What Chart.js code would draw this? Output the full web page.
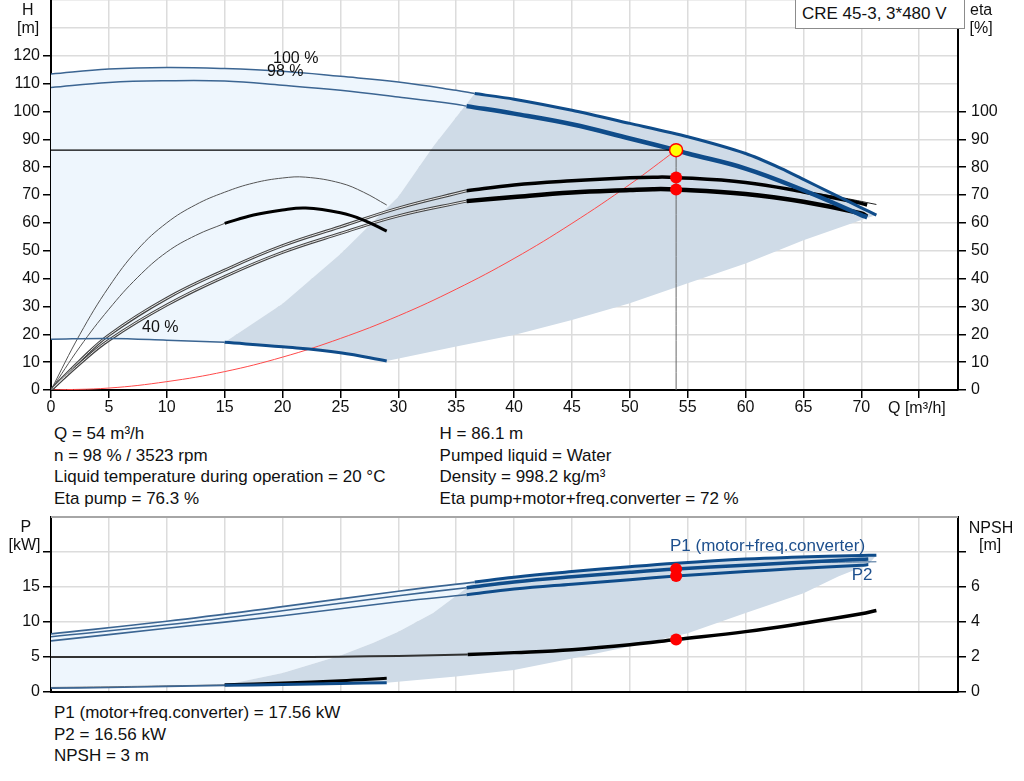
<!DOCTYPE html>
<html>
<head>
<meta charset="utf-8">
<script src="https://cdn.jsdelivr.net/npm/chart.js@4.4.1/dist/chart.umd.min.js"></script>
<style>
html,body{margin:0;padding:0;background:#fff;}
#wrap{position:relative;width:1024px;height:781px;overflow:hidden;font-family:"Liberation Sans",Arial,sans-serif;color:#111;}
.t{position:absolute;white-space:nowrap;font-size:16px;line-height:16px;}
.info{position:absolute;white-space:nowrap;font-size:17px;line-height:21.5px;}
.lbl{position:absolute;white-space:nowrap;font-size:17px;line-height:17px;color:#1d4f8d;}
#c1box{position:absolute;left:0;top:0;width:1024px;height:420px;}
#c2box{position:absolute;left:0;top:515px;width:1024px;height:182px;}
#tbox{position:absolute;left:795px;top:-1px;width:162px;height:28px;border:1px solid #8c8c8c;background:#fff;font-size:17px;line-height:28px;padding-left:6px;box-sizing:content-box;white-space:nowrap;}
</style>
</head>
<body>
<div id="wrap">
  <div id="c1box"><canvas id="c1"></canvas></div>
  <div id="c2box"><canvas id="c2"></canvas></div>

  <div class="t" style="left:22px;top:1.5px;">H</div>
  <div class="t" style="left:17px;top:19.5px;">[m]</div>
  <div class="t" style="left:970px;top:1.5px;">eta</div>
  <div class="t" style="left:969.5px;top:19.5px;">[%]</div>
  <div class="t" style="left:888px;top:400px;">Q [m³/h]</div>
  <div class="t" style="left:273px;top:50px;">100 %</div>
  <div class="t" style="left:267px;top:62.5px;">98 %</div>
  <div class="t" style="left:142px;top:319px;">40 %</div>
  <div id="tbox">CRE 45-3, 3*480 V</div>

  <div class="info" style="left:54px;top:423.4px;">Q = 54 m³/h<br>n = 98 % / 3523 rpm<br>Liquid temperature during operation = 20 °C<br>Eta pump = 76.3 %</div>
  <div class="info" style="left:439.6px;top:423.4px;">H = 86.1 m<br>Pumped liquid = Water<br>Density = 998.2 kg/m³<br>Eta pump+motor+freq.converter = 72 %</div>

  <div class="t" style="left:20.5px;top:519px;">P</div>
  <div class="t" style="left:8.5px;top:536.5px;">[kW]</div>
  <div class="t" style="left:968.8px;top:519.5px;">NPSH</div>
  <div class="t" style="left:979px;top:536.5px;">[m]</div>
  <div class="lbl" style="left:670px;top:536.6px;">P1 (motor+freq.converter)</div>
  <div class="lbl" style="left:851.7px;top:565.6px;">P2</div>

  <div class="info" style="left:54px;top:702.4px;">P1 (motor+freq.converter) = 17.56 kW<br>P2 = 16.56 kW<br>NPSH = 3 m</div>
</div>

<script>
// ================= DATA =================
// axes
const qMax = 78.35;          // right edge of the Q axis
const qTickMax = 70;         // last labelled Q tick
const hMax = 140, hLabelMax = 120, etaLabelMax = 100;
const pMax = 25, pLabelMax = 15, pTickMax = 20;
const npshMax = 10, npshLabelMax = 6, npshTickMax = 8;

// Head curves H [m] vs Q [m3/h]
const q100 = [0, 5, 10, 15, 20, 25, 30, 35, 36.6, 40, 45, 50, 55, 60, 63.1, 65, 67.5, 70, 71.3];
const h100 = [113.4, 115.2, 115.8, 115.4, 114.4, 112.6, 110.6, 107.6, 106.4, 104.4, 100.4, 95.7, 90.9, 84.9, 79.5, 75.6, 70.5, 65.4, 62.8];
const q98 = [0, 5, 10, 15, 20, 25, 30, 35, 35.9, 40, 45, 50, 54, 55, 60, 65, 70, 70.5];
const h98 = [108.6, 110.4, 111.0, 110.9, 109.4, 107.6, 105.2, 102.6, 101.9, 99.2, 95.4, 90.3, 86.1, 84.9, 79.5, 71.7, 62.8, 62.0];
const q40 = [0, 5, 10, 15, 20, 25, 29];
const h40 = [18.2, 18.5, 17.9, 17.1, 15.5, 13.4, 10.4];

// Efficiency curves eta [%]
const qEta98 = [0, 2.5, 5, 10, 15, 20, 25, 30, 35.9, 40, 45, 50, 52, 54, 60, 65, 70, 70.5];
const etaPump98 = [0, 10.5, 19.7, 32.9, 43.0, 51.8, 58.6, 65.3, 71.5, 73.6, 75.1, 76.2, 76.4, 76.3, 74.5, 71.1, 67.0, 66.4];
const etaTot98 = [0, 9.5, 17.9, 30.5, 40.7, 49.4, 56.2, 62.5, 67.8, 69.3, 70.9, 71.8, 72.1, 72.0, 70.4, 67.6, 63.4, 62.2];
const qEtaTail = [65, 68, 71.3];
const etaTail = [71.2, 69.3, 66.6];
const qEta40 = [0, 2.5, 5, 7.5, 10, 12.5, 15, 17.5, 20, 22, 25, 27, 29];
const etaPump40 = [0, 20, 37, 50.5, 60, 66.5, 71, 74.3, 76.1, 76.4, 74.3, 71, 66.4];
const etaTot40 = [0, 15.5, 29, 40.5, 49.5, 55.5, 59.8, 62.8, 64.6, 65.3, 63.6, 61, 57];

// System curve H [m]
const qSys = [0, 5, 10, 15, 20, 25, 30, 35, 40, 45, 50, 54];
const hSys = [0, 0.7, 3.0, 6.6, 11.8, 18.5, 26.6, 36.2, 47.2, 59.8, 73.8, 86.1];

// Operating area boundaries (H chart)
const qOpLeft = [15, 20, 25, 30, 33, 36.6];
const hOpLeft = [17.1, 31.0, 48.8, 69.4, 87.3, 106.4];
const qOpLow = [29, 35, 40, 45, 50, 55, 60, 65, 70, 71.3];
const hOpLow = [10.4, 15.6, 19.7, 25.1, 31.1, 38.3, 45.4, 53.8, 61.0, 62.8];

// Duty point
const dutyQ = 54, dutyH = 86.1, dutyEtaPump = 76.3, dutyEtaTot = 72;
const dutyP1 = 17.56, dutyP2 = 16.56, dutyNpsh = 3;

// Power curves P [kW]
const qP100 = [0, 10, 20, 30, 36.6, 40, 45, 50, 54, 60, 64, 70, 71.3];
const p1_100 = [8.3, 10.1, 12.2, 14.4, 15.7, 16.4, 17.2, 17.9, 18.4, 19.0, 19.25, 19.5, 19.55];
const qP98 = [0, 10, 20, 30, 35.9, 40, 45, 50, 54, 60, 64, 70, 70.6];
const p1_98 = [7.9, 9.6, 11.6, 13.75, 14.9, 15.7, 16.45, 17.1, 17.56, 18.1, 18.45, 18.95, 19.0];
const p2_98 = [7.3, 9.1, 10.9, 12.9, 13.9, 14.7, 15.4, 16.05, 16.56, 17.2, 17.6, 18.1, 18.2];
const qP2Tail = [62, 66, 71.3];
const p2Tail = [18.3, 18.5, 18.6];
const qP40 = [0, 5, 10, 15, 20, 25, 29];
const p2_40 = [0.55, 0.65, 0.8, 0.95, 1.08, 1.22, 1.33];
const p1_40 = [0.65, 0.75, 0.88, 1.02, 1.3, 1.6, 1.95];

// NPSH [m]
const qNpsh = [0, 10, 20, 25, 30, 36, 40, 45, 50, 54, 60, 65, 70, 71.3];
const npsh = [2.0, 2.0, 2.0, 2.02, 2.06, 2.14, 2.25, 2.42, 2.7, 3.0, 3.45, 3.93, 4.47, 4.66];

// Operating area boundaries (P chart)
const qOpLeftP = [15, 20, 25, 27.8, 30, 33, 36.6];
const pOpLeft = [1.0, 2.7, 5.2, 7.0, 8.6, 11.3, 15.7];
const qOpLowP = [29, 35, 40, 45, 50, 55, 60, 65, 68, 70.6];
const pOpLow = [1.33, 2.2, 3.15, 4.8, 6.5, 8.4, 11.3, 14.1, 16.5, 18.2];

// ================= HELPERS =================
const pts = (qs, vs) => qs.map((q, i) => ({x: q, y: vs[i]}));
const upTo = (p, q) => p.filter(d => d.x <= q);
const from = (p, q) => p.filter(d => d.x >= q);
const rev = p => p.slice().reverse();

const BLUE = '#0f4c8a', BLUE_T = '#3b6592', LIGHT = '#eef6fd', DARK = '#cfdbe7', GRID = '#dcdcdc';

function curve(data, color, width, axis, order, extra) {
  return Object.assign({type: 'line', data, borderColor: color, borderWidth: width, pointRadius: 0,
    fill: false, tension: 0.4, yAxisID: axis, order: order}, extra || {});
}
function poly(data, color, axis, order) {
  return {type: 'line', data, borderWidth: 0, borderColor: 'rgba(0,0,0,0)', backgroundColor: color,
    pointRadius: 0, fill: 'shape', tension: 0, yAxisID: axis, order: order};
}
function dots(data, color, border, axis, r) {
  return {type: 'line', data, showLine: false, pointRadius: r, pointBackgroundColor: color,
    pointBorderColor: border, pointBorderWidth: border ? 1.5 : 0, yAxisID: axis, order: 0};
}
function xAxis(showTicks, h) {
  return {type: 'linear', min: 0, max: qMax, position: 'bottom',
    ticks: {display: showTicks, stepSize: 5, includeBounds: false, autoSkip: false, maxRotation: 0, padding: 0,
      callback: v => v <= qTickMax ? String(v) : ''},
    grid: {color: GRID, lineWidth: 1.5, drawTicks: showTicks, tickLength: 8, tickColor: '#000', tickWidth: 1.5},
    border: {color: '#000', width: 2},
    afterFit: s => { s.height = h; s.paddingLeft = 0; s.paddingRight = 0; }};
}
function yAxis(pos, max, step, labelMax, tickMax, width, drawGrid) {
  return {type: 'linear', min: 0, max: max, position: pos,
    ticks: {stepSize: step, includeBounds: false, autoSkip: false, padding: pos === 'left' ? 3 : 5,
      callback: v => v <= labelMax ? String(v) : ''},
    grid: {drawOnChartArea: drawGrid, color: GRID, lineWidth: 1.5, tickLength: 8, tickWidth: 1.5,
      tickColor: c => (c.tick && c.tick.value <= tickMax) ? '#000' : 'rgba(0,0,0,0)'},
    border: {color: '#000', width: 2},
    afterFit: s => { s.width = width; s.paddingTop = 0; s.paddingBottom = 0; }};
}

Chart.defaults.font.family = '"Liberation Sans", Arial, sans-serif';
Chart.defaults.font.size = 16;
Chart.defaults.color = '#111';

const baseOpts = (scales, padTop) => ({
  responsive: true, maintainAspectRatio: false, animation: false, events: [],
  layout: {padding: {top: padTop, left: 0, right: 0, bottom: 0}},
  plugins: {legend: {display: false}, tooltip: {enabled: false}},
  scales
});

// place a chart so that its plot area spans the given page rows
function fitArea(chart, box, pageTop, pageBottom) {
  for (let k = 0; k < 3; k++) {
    const a = chart.chartArea;
    const h = box.offsetHeight + (pageBottom - pageTop) - (a.bottom - a.top);
    box.style.height = h + 'px';
    chart.resize();
    const a2 = chart.chartArea;
    box.style.top = (pageTop - a2.top) + 'px';
  }
}

// ================= TOP CHART =================
const H100 = pts(q100, h100), H98 = pts(q98, h98), H40 = pts(q40, h40);
const OPL = pts(qOpLeft, hOpLeft), OPB = pts(qOpLow, hOpLow);
const EP = pts(qEta98, etaPump98), ET = pts(qEta98, etaTot98);
const EP40 = pts(qEta40, etaPump40), ET40 = pts(qEta40, etaTot40);

const lightH = [...upTo(H100, 36.6), ...rev(OPL), ...rev(upTo(H40, 15))];
const darkH = [...OPL, ...from(H100, 36.6), ...rev(OPB), ...rev(from(H40, 15))];

const chart1 = new Chart(document.getElementById('c1'), {
  type: 'line',
  data: {datasets: [
    poly(lightH, LIGHT, 'y', 20),
    poly(darkH, DARK, 'y', 19),
    curve(pts(qSys, hSys), '#ff4a4a', 1, 'y', 9),
    // 40% eta
    curve(EP40, '#555', 1, 'y', 7),
    curve(upTo(ET40, 15), '#555', 1, 'y', 7),
    curve(from(ET40, 15), '#000', 3, 'y', 6),
    // 98% eta (thin double-line part)
    curve(upTo(EP, 35.9), '#444', 3, 'y', 8),
    curve(upTo(EP, 35.9), '#e6e6e6', 1, 'y', 7),
    curve(upTo(ET, 35.9), '#444', 3, 'y', 8),
    curve(upTo(ET, 35.9), '#e6e6e6', 1, 'y', 7),
    curve(from(EP, 35.9), '#000', 3.5, 'y', 6),
    curve(from(ET, 35.9), '#000', 4.5, 'y', 6),
    curve(pts(qEtaTail, etaTail), '#222', 1, 'y', 6),
    // head curves
    curve(upTo(H100, 36.6), BLUE_T, 1.5, 'y', 5),
    curve(from(H100, 36.6), BLUE, 3, 'y', 4, {tension: 0.25}),
    curve(upTo(H98, 35.9), BLUE_T, 1.5, 'y', 5),
    curve(from(H98, 35.9), BLUE, 4.5, 'y', 4),
    curve(upTo(H40, 15), BLUE_T, 1.5, 'y', 5),
    curve(from(H40, 15), BLUE, 3, 'y', 4),
    // duty lines
    curve([{x: 0, y: dutyH}, {x: dutyQ, y: dutyH}], '#000', 1.2, 'y', 3),
    curve([{x: dutyQ, y: dutyH}, {x: dutyQ, y: 0}], '#666', 1, 'y', 3),
    // duty points
    dots([{x: dutyQ, y: dutyEtaPump}, {x: dutyQ, y: dutyEtaTot}], '#ff0000', null, 'y', 6),
    dots([{x: dutyQ, y: dutyH}], '#ffff00', '#ff0000', 'y', 6.5)
  ]},
  options: baseOpts({
    x: xAxis(true, 30),
    y: yAxis('left', hMax, 10, hLabelMax, hLabelMax, 51, true),
    yEta: yAxis('right', hMax, 10, etaLabelMax, etaLabelMax, 66, false)
  }, 0)
});
fitArea(chart1, document.getElementById('c1box'), 0, 390);

// ================= BOTTOM CHART =================
const P100 = pts(qP100, p1_100), P1 = pts(qP98, p1_98), P2 = pts(qP98, p2_98);
const PA40 = pts(qP40, p2_40), PB40 = pts(qP40, p1_40);
const OPLP = pts(qOpLeftP, pOpLeft), OPBP = pts(qOpLowP, pOpLow);
const NP = pts(qNpsh, npsh);

const lightP = [...upTo(P100, 36.6), ...rev(OPLP), ...rev(upTo(PA40, 15))];
const darkP = [...OPLP, ...from(P100, 36.6), ...rev(OPBP), ...rev(from(PA40, 15))];

const topBorder = {id: 'topBorder', afterDraw(c) {
  const {ctx, chartArea: a} = c;
  ctx.save(); ctx.strokeStyle = '#a6a6a6'; ctx.lineWidth = 2;
  ctx.beginPath(); ctx.moveTo(a.left, a.top); ctx.lineTo(a.right, a.top); ctx.stroke(); ctx.restore();
}};

const chart2 = new Chart(document.getElementById('c2'), {
  type: 'line',
  data: {datasets: [
    poly(lightP, LIGHT, 'y', 20),
    poly(darkP, DARK, 'y', 19),
    curve(upTo(P100, 36.6), BLUE_T, 1.6, 'y', 5),
    curve(from(P100, 36.6), BLUE, 3, 'y', 4),
    curve(upTo(P1, 35.9), BLUE_T, 1.6, 'y', 5),
    curve(from(P1, 35.9), BLUE, 3.5, 'y', 4),
    curve(upTo(P2, 35.9), BLUE_T, 1.6, 'y', 5),
    curve(from(P2, 35.9), BLUE, 3, 'y', 4),
    curve(pts(qP2Tail, p2Tail), BLUE_T, 1, 'y', 5),
    curve(upTo(PA40, 15), BLUE_T, 1.6, 'y', 5),
    curve(from(PA40, 15), BLUE, 3, 'y', 4),
    curve(upTo(PB40, 15), '#777', 1, 'y', 5),
    curve(from(PB40, 15), '#000', 3, 'y', 4),
    curve(upTo(NP, 36), '#333', 2, 'yN', 5),
    curve(from(NP, 36), '#000', 3.5, 'yN', 4),
    dots([{x: dutyQ, y: dutyP1}, {x: dutyQ, y: dutyP2}], '#ff0000', null, 'y', 6),
    dots([{x: dutyQ, y: dutyNpsh}], '#ff0000', null, 'yN', 6)
  ]},
  options: baseOpts({
    x: xAxis(false, 5),
    y: yAxis('left', pMax, 5, pLabelMax, pTickMax, 51, true),
    yN: yAxis('right', npshMax, 2, npshLabelMax, npshTickMax, 66, false)
  }, 2),
  plugins: [topBorder]
});
fitArea(chart2, document.getElementById('c2box'), 517, 692);
</script>
</body>
</html>
